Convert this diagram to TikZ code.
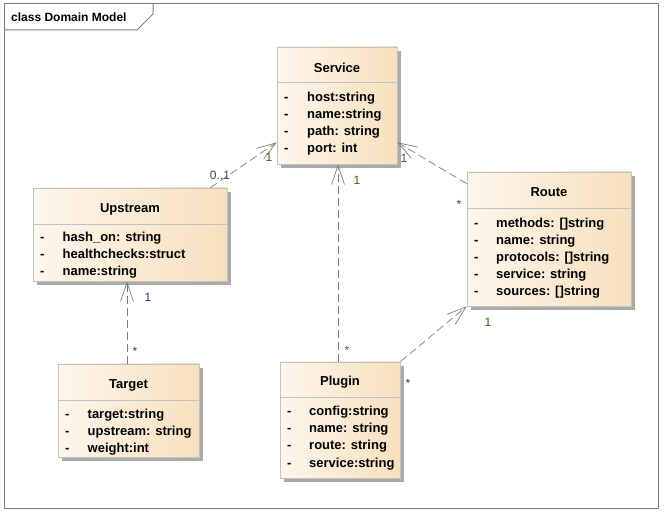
\documentclass[tikz,border=0pt]{standalone}
\usepackage{fontspec}
\setmainfont{Liberation Sans}
\usetikzlibrary{arrows.meta,shadows}

\definecolor{frameline}{HTML}{7A7A7A}
\definecolor{boxline}{HTML}{C2C2C2}
\definecolor{boxleft}{HTML}{FDF6EC}
\definecolor{boxright}{HTML}{F7E0BE}
\definecolor{boxshadow}{HTML}{AAAAAA}
\definecolor{assocline}{HTML}{7D7D7D}
\definecolor{multbrown}{HTML}{6A4A10}
\definecolor{multblue}{HTML}{1E3A80}

\tikzset{
  classbox/.style={draw=boxline, line width=0.8pt, left color=boxleft, right color=boxright,
    inner sep=0pt, general shadow={fill=boxshadow, shadow xshift=4pt, shadow yshift=-4pt}},
  divline/.style={boxline, line width=0.8pt},
  clsname/.style={inner sep=0pt, font=\fontsize{13}{15}\selectfont\bfseries, text height=9.5pt, text depth=2.5pt},
  attr/.style={anchor=west, inner sep=0pt, font=\fontsize{13}{15}\selectfont\bfseries, text height=9.5pt, text depth=2.5pt},
  assoc/.style={assocline, line width=0.7pt, dash pattern=on 8pt off 4pt, -{Straight Barb[length=19pt,width=13pt]}},
  mult/.style={inner sep=0pt, font=\fontsize{12}{14}\selectfont, text height=8.5pt, text depth=0pt},
}

\begin{document}
\begin{tikzpicture}[x=1pt,y=-1pt]
	\useasboundingbox (0,0) rectangle (665,513);
	\draw[frameline, line width=1pt] (4,4) rectangle (658,508);
	\draw[frameline, line width=1pt] (4,30) -- (137,30) -- (153,14) -- (153,4);
	\node[anchor=west, inner sep=0pt, font=\fontsize{12}{14}\selectfont\bfseries] (title) at (11,17) {class Domain Model};

	% Service
	\node[classbox, minimum width=120pt, minimum height=117pt] (service) at (337,105.5) {};
	\draw[divline] (service.west |- 0,82) -- (service.east |- 0,82);
	\node[clsname] (servicename) at (337,69) {Service};
	\node[attr] (service1) at (284,98) {\makebox[23pt][l]{-}host:string};
	\node[attr] (service2) at (284,115) {\makebox[23pt][l]{-}name:string};
	\node[attr] (service3) at (284,132) {\makebox[23pt][l]{-}path: string};
	\node[attr] (service4) at (284,149) {\makebox[23pt][l]{-}port: int};

	% Route
	\node[classbox, minimum width=164pt, minimum height=134pt] (route) at (549,239) {};
	\draw[divline] (route.west |- 0,208) -- (route.east |- 0,208);
	\node[clsname] (routename) at (549,193) {Route};
	\node[attr] (route1) at (474,224) {\makebox[22pt][l]{-}methods: []string};
	\node[attr] (route2) at (474,241) {\makebox[22pt][l]{-}name: string};
	\node[attr] (route3) at (474,258) {\makebox[22pt][l]{-}protocols: []string};
	\node[attr] (route4) at (474,275) {\makebox[22pt][l]{-}service: string};
	\node[attr] (route5) at (474,292) {\makebox[22pt][l]{-}sources: []string};

	% Upstream
	\node[classbox, minimum width=194pt, minimum height=93pt] (upstream) at (130,234.5) {};
	\draw[divline] (upstream.west |- 0,224) -- (upstream.east |- 0,224);
	\node[clsname] (upstreamname) at (130,209) {Upstream};
	\node[attr] (upstream1) at (40,238) {\makebox[22.5pt][l]{-}hash\_on: string};
	\node[attr] (upstream2) at (40,255) {\makebox[22.5pt][l]{-}healthchecks:struct};
	\node[attr] (upstream3) at (40,272) {\makebox[22.5pt][l]{-}name:string};

	% Target
	\node[classbox, minimum width=141pt, minimum height=93pt] (target) at (128.5,410.5) {};
	\draw[divline] (target.west |- 0,400) -- (target.east |- 0,400);
	\node[clsname] (targetname) at (128.5,385) {Target};
	\node[attr] (target1) at (65,415) {\makebox[22.5pt][l]{-}target:string};
	\node[attr] (target2) at (65,432) {\makebox[22.5pt][l]{-}upstream: string};
	\node[attr] (target3) at (65,449) {\makebox[22.5pt][l]{-}weight:int};

	% Plugin
	\node[classbox, minimum width=120pt, minimum height=116pt] (plugin) at (340,420) {};
	\draw[divline] (plugin.west |- 0,397) -- (plugin.east |- 0,397);
	\node[clsname] (pluginname) at (340,382) {Plugin};
	\node[attr] (plugin1) at (287,412) {\makebox[22pt][l]{-}config:string};
	\node[attr] (plugin2) at (287,429) {\makebox[22pt][l]{-}name: string};
	\node[attr] (plugin3) at (287,446) {\makebox[22pt][l]{-}route: string};
	\node[attr] (plugin4) at (287,464) {\makebox[22pt][l]{-}service:string};

	% associations
	\draw[assoc] ([xshift=-17pt]upstream.north east) -- ([yshift=22pt]service.south west);
	\draw[assoc] ([yshift=-12pt]route.north west) -- ([yshift=22pt]service.south east);
	\draw[assoc] ([xshift=-2pt]plugin.north) -- ([xshift=-2pt]plugin.north |- service.south);
	\draw[assoc] (plugin.north east) -- (route.south west);
	\draw[assoc] ([xshift=-1.5pt]target.north) -- ([xshift=-1.5pt]target.north |- upstream.south);

	\node[mult, multblue!60!multbrown] (m01) at (220,175) {0..1};
	\node[mult, multbrown] (mservicel) at (269,157) {1};
	\node[mult, multbrown] (mservicer) at (404,158) {1};
	\node[mult, multblue] (mroute) at (459,204) {*};
	\node[mult, multbrown] (mrouteb) at (488,322) {1};
	\node[mult, multblue] (mpluginr) at (408,383) {*};
	\node[mult, multbrown] (mservicep) at (357,180) {1};
	\node[mult, multbrown] (mpluginu) at (347,350) {*};
	\node[mult, multblue] (mupstream) at (148,297) {1};
	\node[mult, multblue] (mtarget) at (135,351) {*};
\end{tikzpicture}
\end{document}
